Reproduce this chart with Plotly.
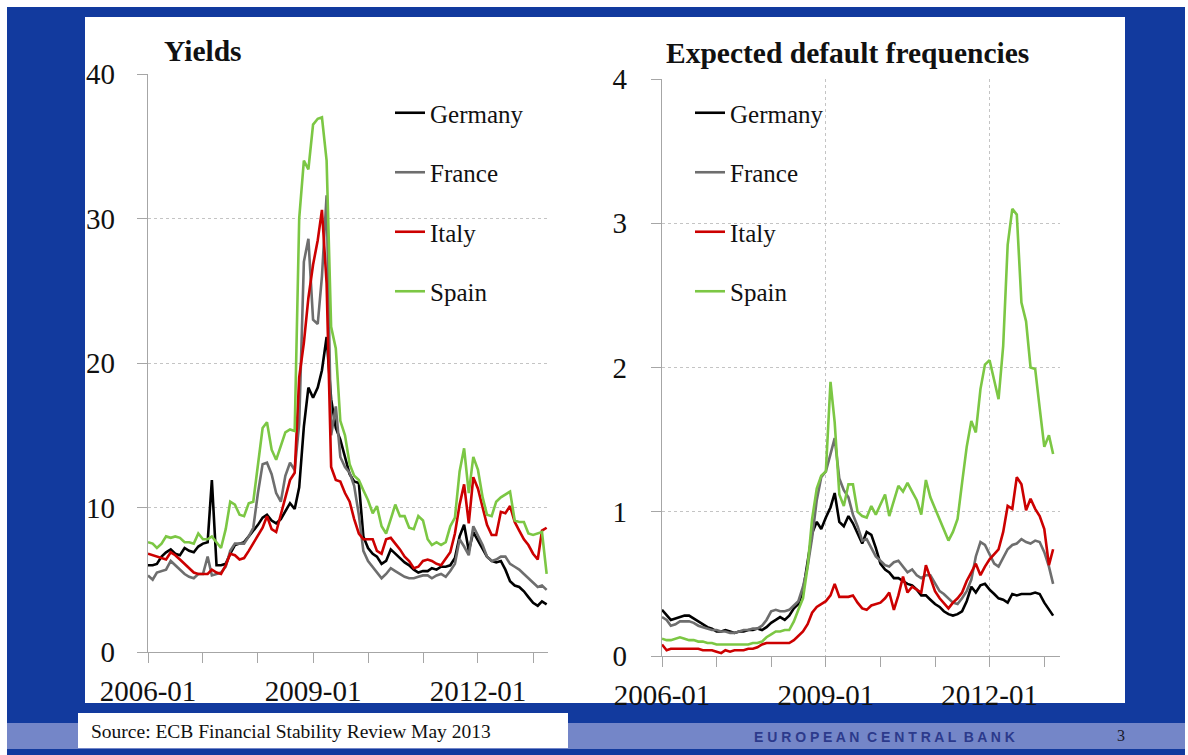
import pandas as pd
import plotly.graph_objects as go

# ---------------- data ----------------
countries = ["Germany", "France", "Italy", "Spain"]
colors = ["#000000", "#6e6e6e", "#cc0000", "#7cc744"]

dates_yields = pd.date_range("2006-01-01", periods=88, freq="MS")
dates_edf = pd.date_range("2006-01-01", periods=87, freq="MS")

yields_germany = [
    6.0, 6.0, 6.1, 6.6, 6.9, 7.1, 6.8, 6.7, 7.2, 7.0,
    6.9, 7.3, 7.5, 7.6, 11.9, 6.0, 6.0, 6.1, 6.8, 7.4,
    7.5, 7.6, 8.0, 8.4, 8.8, 9.3, 9.5, 9.1, 8.9, 9.2,
    9.7, 10.3, 9.9, 11.4, 15.6, 18.3, 17.6, 18.3, 19.5, 21.8,
    17.5, 15.5, 14.7, 13.5, 12.3, 11.8, 11.7, 8.0, 7.2, 6.8,
    6.6, 6.1, 6.3, 7.1, 6.8, 6.5, 6.2, 6.0, 5.7, 5.5,
    5.6, 5.6, 5.8, 5.7, 5.9, 5.9, 6.0, 6.5, 8.0, 8.8,
    7.0, 8.3, 7.7, 7.1, 6.6, 6.3, 6.2, 6.3, 5.7, 4.9,
    4.6, 4.5, 4.2, 3.8, 3.4, 3.2, 3.5, 3.3]
yields_france = [
    5.3, 5.0, 5.5, 5.6, 5.7, 6.3, 6.0, 5.7, 5.4, 5.2,
    5.1, 5.4, 5.4, 6.6, 5.3, 5.4, 5.5, 5.9, 7.0, 7.5,
    7.5, 7.5, 8.0, 8.6, 11.0, 13.0, 13.1, 12.3, 11.0, 10.4,
    12.2, 13.1, 12.6, 15.8, 27.0, 28.6, 23.0, 22.7, 26.0, 31.6,
    15.0, 17.0, 13.5, 12.8, 12.4, 11.5, 9.5, 7.0, 6.3, 5.9,
    5.5, 5.1, 5.4, 5.8, 5.6, 5.4, 5.2, 5.1, 5.1, 5.2,
    5.3, 5.3, 5.1, 5.3, 5.4, 5.2, 5.6, 6.1, 7.8, 7.3,
    6.7, 8.7, 8.1, 7.4, 6.6, 6.3, 6.4, 6.6, 6.6, 6.1,
    5.9, 5.7, 5.4, 5.1, 4.8, 4.5, 4.6, 4.3]
yields_italy = [
    6.8, 6.7, 6.6, 6.5, 6.4, 6.9, 6.7, 6.4, 6.1, 5.8,
    5.5, 5.4, 5.4, 5.4, 5.7, 5.5, 5.4, 6.0, 6.8, 6.7,
    6.4, 6.5, 7.0, 7.5, 8.0, 8.6, 9.4, 8.5, 8.3, 9.5,
    10.7, 11.9, 12.4, 19.0, 21.4, 24.5, 26.8, 28.5, 30.6, 25.5,
    12.8, 11.9, 11.8, 11.0, 10.4, 9.2, 8.2, 7.8, 7.8, 7.8,
    7.0, 6.8, 7.8, 7.9, 7.5, 7.1, 6.6, 6.3, 5.8, 5.9,
    6.3, 6.4, 6.3, 6.1, 6.0, 6.5, 6.9, 8.2, 10.2, 11.6,
    8.9, 12.1, 11.3, 10.0, 8.8, 8.1, 8.1, 9.7, 9.6, 10.1,
    9.0, 8.4, 7.8, 7.4, 6.8, 6.4, 8.4, 8.6]
yields_spain = [
    7.6, 7.5, 7.2, 7.5, 8.0, 7.9, 8.0, 7.9, 7.6, 7.6,
    7.5, 8.2, 7.8, 7.8, 8.0, 7.6, 7.2, 8.5, 10.4, 10.2,
    9.5, 9.4, 10.3, 10.4, 13.0, 15.5, 15.9, 14.0, 13.3, 14.2,
    15.2, 15.4, 15.3, 30.0, 34.0, 33.4, 36.5, 36.9, 37.0, 34.0,
    22.5, 21.0, 16.0, 15.0, 13.0, 12.2, 11.9, 11.2, 10.5, 9.6,
    10.1, 8.7, 8.2, 9.2, 10.2, 9.4, 9.4, 8.6, 8.5, 9.4,
    9.1, 7.8, 7.4, 7.6, 7.4, 7.6, 8.7, 9.3, 12.5, 14.1,
    11.0, 13.5, 12.6, 10.7, 9.5, 9.4, 10.4, 10.7, 10.9, 11.1,
    9.1, 9.0, 9.0, 8.2, 8.1, 8.2, 8.3, 5.4]

edf_germany = [
    0.32, 0.28, 0.25, 0.26, 0.27, 0.28, 0.28, 0.26, 0.24, 0.22,
    0.20, 0.19, 0.17, 0.17, 0.18, 0.17, 0.16, 0.17, 0.17, 0.18,
    0.18, 0.19, 0.18, 0.20, 0.23, 0.25, 0.27, 0.25, 0.28, 0.33,
    0.36, 0.45, 0.65, 0.85, 0.93, 0.88, 0.96, 1.03, 1.13, 0.93,
    0.90, 0.97, 0.92, 0.85, 0.78, 0.86, 0.84, 0.75, 0.64, 0.60,
    0.58, 0.54, 0.54, 0.52, 0.50, 0.49, 0.46, 0.42, 0.42, 0.39,
    0.36, 0.34, 0.31, 0.29, 0.28, 0.29, 0.31, 0.38, 0.48, 0.44,
    0.49, 0.50, 0.46, 0.43, 0.40, 0.39, 0.37, 0.43, 0.42, 0.43,
    0.43, 0.43, 0.44, 0.43, 0.37, 0.32, 0.28]
edf_france = [
    0.27, 0.25, 0.21, 0.22, 0.24, 0.24, 0.24, 0.23, 0.21, 0.20,
    0.19, 0.18, 0.18, 0.17, 0.17, 0.16, 0.16, 0.17, 0.18, 0.18,
    0.19, 0.19, 0.21, 0.25, 0.31, 0.32, 0.31, 0.31, 0.32, 0.35,
    0.38, 0.48, 0.62, 0.82, 1.08, 1.24, 1.28, 1.40, 1.51, 1.23,
    1.15, 1.10, 0.98, 0.90, 0.80, 0.81, 0.75, 0.69, 0.66, 0.63,
    0.62, 0.65, 0.66, 0.62, 0.58, 0.60, 0.56, 0.54, 0.56, 0.56,
    0.50, 0.45, 0.43, 0.40, 0.37, 0.36, 0.40, 0.45, 0.53, 0.69,
    0.79, 0.77, 0.70, 0.64, 0.62, 0.68, 0.74, 0.77, 0.78, 0.81,
    0.79, 0.78, 0.80, 0.79, 0.72, 0.62, 0.50]
edf_italy = [
    0.08, 0.04, 0.05, 0.05, 0.05, 0.05, 0.05, 0.05, 0.05, 0.04,
    0.04, 0.04, 0.03, 0.02, 0.04, 0.03, 0.04, 0.04, 0.04, 0.05,
    0.05, 0.06, 0.08, 0.09, 0.09, 0.09, 0.09, 0.09, 0.09, 0.11,
    0.14, 0.17, 0.22, 0.30, 0.34, 0.36, 0.38, 0.42, 0.50, 0.41,
    0.41, 0.41, 0.42, 0.37, 0.33, 0.32, 0.35, 0.36, 0.37, 0.40,
    0.44, 0.32, 0.42, 0.55, 0.44, 0.48, 0.46, 0.44, 0.63, 0.54,
    0.45, 0.40, 0.37, 0.33, 0.37, 0.40, 0.44, 0.52, 0.58, 0.64,
    0.56, 0.62, 0.67, 0.71, 0.74, 0.86, 1.04, 1.02, 1.24, 1.19,
    1.01, 1.09, 1.02, 0.97, 0.88, 0.63, 0.74]
edf_spain = [
    0.12, 0.11, 0.11, 0.12, 0.13, 0.12, 0.11, 0.11, 0.10, 0.10,
    0.09, 0.09, 0.08, 0.08, 0.08, 0.08, 0.08, 0.08, 0.08, 0.08,
    0.09, 0.09, 0.10, 0.13, 0.15, 0.17, 0.17, 0.18, 0.18, 0.24,
    0.32, 0.40, 0.62, 0.95, 1.16, 1.25, 1.28, 1.90, 1.62, 1.12,
    1.04, 1.19, 1.19, 1.00, 0.97, 0.96, 1.04, 0.98, 1.05, 1.12,
    0.97, 1.08, 1.18, 1.14, 1.20, 1.14, 1.08, 0.98, 1.22, 1.10,
    1.02, 0.95, 0.88, 0.80, 0.86, 0.95, 1.20, 1.45, 1.63, 1.55,
    1.85, 2.02, 2.05, 1.90, 1.78, 2.15, 2.85, 3.10, 3.06, 2.45,
    2.32, 2.00, 1.99, 1.72, 1.45, 1.53, 1.40]

yields_series = [yields_germany, yields_france, yields_italy, yields_spain]
edf_series = [edf_germany, edf_france, edf_italy, edf_spain]

# ---------------- page geometry (pixels) ----------------
W, H = 1188, 755


def fx(px):
    return px / W


def fy(py):
    return 1 - py / H


SERIF = "Liberation Serif"
BLUE = "#123a9e"
STRIPE = "#7486c8"
AXIS_GREY = "#a6a6a6"
GRID_GREY = "#c4c4c4"

fig = go.Figure()

for name, col, ys in zip(countries, colors, yields_series):
    fig.add_trace(go.Scatter(
        x=dates_yields, y=ys, mode="lines", name=name,
        line=dict(color=col, width=2.6),
        xaxis="x", yaxis="y", legend="legend", legendgroup="y_" + name))

for name, col, ys in zip(countries, colors, edf_series):
    fig.add_trace(go.Scatter(
        x=dates_edf, y=ys, mode="lines", name=name,
        line=dict(color=col, width=2.6),
        xaxis="x2", yaxis="y2", legend="legend2", legendgroup="e_" + name))

tick_font = dict(family=SERIF, size=29, color="#111111")

x_common = dict(
    type="date", tick0="2006-01-01", dtick="M36", tickformat="%Y-%m",
    ticks="outside", ticklen=10, tickwidth=1, tickcolor=AXIS_GREY,
    showline=True, linecolor=AXIS_GREY, linewidth=1.2,
    tickfont=tick_font, ticklabelstandoff=3, automargin=False,
    minor=dict(dtick="M12", tick0="2006-01-01", ticks="outside", ticklen=10,
               tickcolor=AXIS_GREY, showgrid=False),
    zeroline=False, fixedrange=True,
)
y_common = dict(
    ticks="outside", ticklen=10, tickwidth=1, tickcolor=AXIS_GREY,
    showline=True, linecolor=AXIS_GREY, linewidth=1.2,
    showgrid=True, gridcolor=GRID_GREY, griddash="dot", gridwidth=1,
    tickfont=tick_font, zeroline=False, fixedrange=True, automargin=False,
)

legend_style = dict(
    xanchor="left", yanchor="top", bgcolor="rgba(0,0,0,0)", borderwidth=0,
    font=dict(family=SERIF, size=25, color="#111111"),
    tracegroupgap=24, itemwidth=30,
)

fig.update_layout(
    width=W, height=H,
    margin=dict(l=0, r=0, t=0, b=0, pad=0, autoexpand=False),
    paper_bgcolor="white", plot_bgcolor="rgba(0,0,0,0)",
    showlegend=True,
    xaxis=dict(x_common, domain=[fx(148), fx(548)],
               range=["2006-01-01", "2013-04-10"], showgrid=False, anchor="y"),
    yaxis=dict(y_common, domain=[fy(652), fy(74)], range=[0, 40], dtick=10,
               ticklabelstandoff=16, anchor="x"),
    xaxis2=dict(x_common, domain=[fx(662), fx(1060)],
                range=["2006-01-01", "2013-04-16"], showgrid=True,
                gridcolor=GRID_GREY, griddash="dot", gridwidth=1, anchor="y2"),
    yaxis2=dict(y_common, domain=[fy(656), fy(79)], range=[0, 4], dtick=1,
                ticklabelstandoff=18, anchor="x2"),
    legend=dict(legend_style, x=fx(390), y=fy(90)),
    legend2=dict(legend_style, x=fx(690), y=fy(90)),
)

# slide background, white content panel, footer band and source box
shapes = [
    dict(x0=7, x1=1185, y0=7, y1=755, color=BLUE),
    dict(x0=85, x1=1125, y0=17, y1=703, color="white"),
    dict(x0=7, x1=1185, y0=723, y1=749, color=STRIPE),
    dict(x0=78, x1=568, y0=713, y1=748, color="white"),
]
for s in shapes:
    fig.add_shape(type="rect", xref="paper", yref="paper",
                  x0=fx(s["x0"]), x1=fx(s["x1"]), y0=fy(s["y1"]), y1=fy(s["y0"]),
                  fillcolor=s["color"], line=dict(width=0), layer="below")

# panel titles and footer texts
fig.add_annotation(x=fx(162), y=fy(51), xref="paper", yref="paper",
                   text="<b>Yields</b>", showarrow=False, xanchor="left",
                   yanchor="middle", font=dict(family=SERIF, size=29.5, color="#111111"))
fig.add_annotation(x=fx(664), y=fy(53), xref="paper", yref="paper",
                   text="<b>Expected default frequencies</b>", showarrow=False,
                   xanchor="left", yanchor="middle",
                   font=dict(family=SERIF, size=29.5, color="#111111"))
fig.add_annotation(x=fx(89), y=fy(731), xref="paper", yref="paper",
                   text="Source: ECB Financial Stability Review May 2013",
                   showarrow=False, xanchor="left", yanchor="middle",
                   font=dict(family=SERIF, size=19.5, color="#111111"))
fig.add_annotation(x=fx(884), y=fy(737), xref="paper", yref="paper",
                   text="E U R O P E A N  C E N T R A L  B A N K",
                   showarrow=False, xanchor="center", yanchor="middle",
                   font=dict(family="Liberation Sans", size=14, color="#2c3a8c",
                             weight="bold"))
fig.add_annotation(x=fx(1121), y=fy(735), xref="paper", yref="paper",
                   text="3", showarrow=False, xanchor="center", yanchor="middle",
                   font=dict(family=SERIF, size=16, color="#1a1a2a"))

fig.write_html("out.html", config=dict(displayModeBar=False))
